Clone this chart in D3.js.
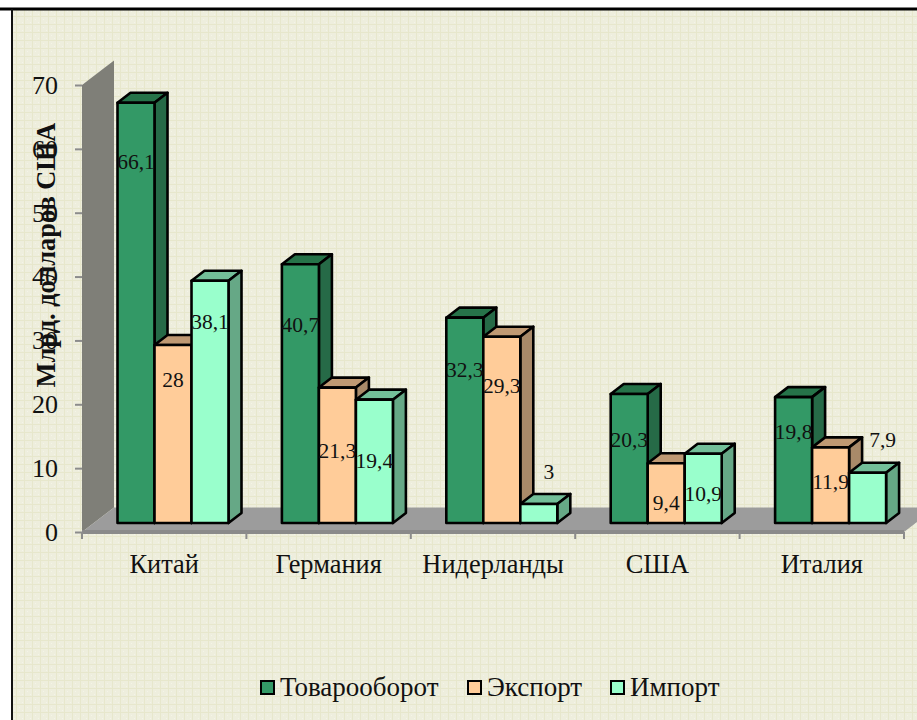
<!DOCTYPE html>
<html>
<head>
<meta charset="utf-8">
<script src="https://cdn.jsdelivr.net/npm/d3@7"></script>
<style>
    html, body { margin: 0; padding: 0; background: #fff; }
    svg { display: block; }
    text { font-family: "Liberation Serif", serif; fill: #111; }
</style>
</head>
<body>
<svg id="chart" width="917" height="720"></svg>
<script>
var categories = ["Китай", "Германия", "Нидерланды", "США", "Италия"];
var series_names = ["Товарооборот", "Экспорт", "Импорт"];
var turnover = [66.1, 40.7, 32.3, 20.3, 19.8];
var exports_ = [28, 21.3, 29.3, 9.4, 11.9];
var imports_ = [38.1, 19.4, 3, 10.9, 7.9];
var y_ticks = [0, 10, 20, 30, 40, 50, 60, 70];
var y_title = "Млрд. долларов США";

var series_values = [turnover, exports_, imports_];
var front = ["#339966", "#ffcc99", "#99ffcc"];
var top_c = ["#267349", "#bf9973", "#73bf99"];
var side = ["#266a47", "#a98a69", "#66a886"];

// the labels were dragged around by hand in the original, so they do not follow the bars
var label_center_y = [
    [162, 325, 370, 440, 432],
    [380, 451, 386, 503, 482],
    [322, 461, 472, 494, 440]
];
var label_shift_x = [
    [0, 0, 0, 0, 0],
    [0, 0, 0, 0, 0],
    [0, 0, 10, 0, 15]
];

var svg = d3.select("#chart");
var defs = svg.append("defs");

// faint grid on the paper, with fine dots in the cells
var pat = defs.append("pattern")
    .attr("id", "paper")
    .attr("patternUnits", "userSpaceOnUse")
    .attr("width", 16).attr("height", 16);
pat.append("rect").attr("width", 16).attr("height", 16).attr("fill", "#eeeedd");
pat.append("path").attr("d", "M0 0.5H16M0 8.5H16M0.5 0V16M8.5 0V16")
    .attr("stroke", "#e7e7cc").attr("stroke-width", 1);
pat.append("path").attr("d", "M3 3h1v1h-1zM6 6h1v1h-1zM11 3h1v1h-1zM14 6h1v1h-1zM3 11h1v1h-1zM6 14h1v1h-1zM11 11h1v1h-1zM14 14h1v1h-1z")
    .attr("fill", "#f4f4e8");

svg.append("rect").attr("x", 12).attr("y", 9).attr("width", 905).attr("height", 711)
    .attr("fill", "url(#paper)");
svg.append("path").attr("d", "M0 9H917").attr("stroke", "#000").attr("stroke-width", 3);
svg.append("path").attr("d", "M12 9V720").attr("stroke", "#111").attr("stroke-width", 2);

var x0 = d3.scaleBand().domain(categories).range([82, 904]);
var y = d3.scaleLinear().domain([0, 70]).range([532, 85]);
// bars stand further back on the floor, so their scale is a bit shorter than the axis
var y_bar = d3.scaleLinear().domain([0, 70]).range([523, 78]);
var depth_x = 32, depth_y = 24.5;   // wall and floor depth
var bar_dx = 13, bar_dy = 10;       // bar depth
var front_dx = 35.5;                // where the bars stand on the floor
var bar_w = 37;

// wall and floor
svg.append("path")
    .attr("d", d3.line()([[x0.range()[0], y(70)], [x0.range()[0] + depth_x, y(70) - depth_y],
        [x0.range()[0] + depth_x, y(0) - depth_y], [x0.range()[0], y(0)]]))
    .attr("fill", "#7f7f78");
svg.append("path")
    .attr("d", d3.line()([[x0.range()[0], y(0)], [x0.range()[0] + depth_x, y(0) - depth_y],
        [x0.range()[1] + depth_x, y(0) - depth_y], [x0.range()[1], y(0)]]))
    .attr("fill", "#9c9c9c");
svg.append("rect")
    .attr("x", x0.range()[0]).attr("y", y(0) - 2)
    .attr("width", x0.range()[1] - x0.range()[0]).attr("height", 4)
    .attr("fill", "#8a8a8a");

// axes
var y_axis = d3.axisLeft(y).tickValues(y_ticks).tickSize(7).tickPadding(17).tickFormat(d3.format("d"));
var g_y = svg.append("g").attr("transform", "translate(82,0)").call(y_axis);
g_y.select(".domain").remove();
g_y.selectAll("line").attr("stroke", "#8c8c8c").attr("stroke-width", 2);
g_y.selectAll("text").attr("font-size", 26).attr("font-family", "Liberation Serif").attr("fill", "#111");

var tick_xs = categories.map(function (c) { return x0(c); }).concat([x0.range()[1]]);
svg.selectAll(".xtick").data(tick_xs).join("line")
    .attr("class", "xtick")
    .attr("x1", function (d) { return d; }).attr("x2", function (d) { return d; })
    .attr("y1", y(0)).attr("y2", y(0) + 7)
    .attr("stroke", "#8c8c8c").attr("stroke-width", 2);
svg.selectAll(".xlabel").data(categories).join("text")
    .attr("class", "xlabel")
    .attr("x", function (d) { return x0(d) + x0.bandwidth() / 2; })
    .attr("y", 573)
    .attr("text-anchor", "middle")
    .attr("font-size", 26.4)
    .text(function (d) { return d; });

// bars
categories.forEach(function (c, ci) {
    var g = svg.append("g").attr("class", "group");
    series_values.forEach(function (vals, si) {
        var left = x0(c) + front_dx + si * bar_w;
        var top_y = y_bar(vals[ci]);
        var base = y_bar(0);
        var b = g.append("g");
        b.append("path")
            .attr("d", d3.line()([[left, top_y], [left + bar_dx, top_y - bar_dy],
                [left + bar_w + bar_dx, top_y - bar_dy], [left + bar_w, top_y]]) + "Z")
            .attr("fill", top_c[si]);
        b.append("path")
            .attr("d", d3.line()([[left + bar_w, top_y], [left + bar_w + bar_dx, top_y - bar_dy],
                [left + bar_w + bar_dx, base - bar_dy], [left + bar_w, base]]) + "Z")
            .attr("fill", side[si]);
        b.append("rect")
            .attr("x", left).attr("y", top_y)
            .attr("width", bar_w).attr("height", base - top_y)
            .attr("fill", front[si]);
        b.selectAll("path,rect").attr("stroke", "#000").attr("stroke-width", 2.6)
            .attr("stroke-linejoin", "round");
    });
});

// value labels
categories.forEach(function (c, ci) {
    series_values.forEach(function (vals, si) {
        var left = x0(c) + front_dx + si * bar_w;
        svg.append("text")
            .attr("class", "value")
            .attr("x", left + bar_w / 2 + label_shift_x[si][ci])
            .attr("y", label_center_y[si][ci] + 7)
            .attr("text-anchor", "middle")
            .attr("font-size", 21.5)
            .text(String(vals[ci]).replace(".", ","));
    });
});

// axis title sits on top of the tick labels, as in the picture
svg.append("text")
    .attr("transform", "translate(55,255) rotate(-90)")
    .attr("text-anchor", "middle")
    .attr("font-size", 26.4)
    .attr("font-weight", "bold")
    .text(y_title);

// legend
var legend_x = [260, 467, 610];
series_names.forEach(function (name, i) {
    svg.append("rect")
        .attr("x", legend_x[i] + 1).attr("y", 681)
        .attr("width", 13).attr("height", 13)
        .attr("fill", front[i]).attr("stroke", "#000").attr("stroke-width", 2);
    svg.append("text")
        .attr("x", legend_x[i] + 20).attr("y", 696)
        .attr("font-size", 27)
        .text(name);
});
</script>
</body>
</html>
